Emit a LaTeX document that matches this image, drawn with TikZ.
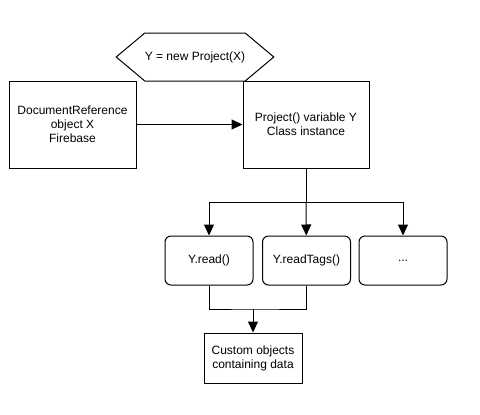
\documentclass[tikz,border=0pt]{standalone}
\usepackage{fontspec}
\setmainfont{Liberation Sans}
\usetikzlibrary{arrows.meta,shapes.symbols}
\begin{document}
\begin{tikzpicture}[x=1pt,y=-1pt,line width=1pt,
  box/.style={draw, align=center, inner sep=0pt},
  method/.style={draw, rounded corners=6pt, minimum width=88, minimum height=49, inner sep=0pt},
  arr/.style={-{Triangle[length=11pt,width=10pt]}},
  font=\fontsize{12}{14}\selectfont]
\useasboundingbox (0,0) rectangle (480,415);
\node[draw, signal, signal to=east and west, signal pointer angle=80, minimum width=115, minimum height=48, inner xsep=0pt] (hex) at (195,57) {Y = new Project(X)};
\node[box, minimum width=127, minimum height=87] (doc) at (72.5,124.5) {DocumentReference\\object X\\Firebase};
\node[box, minimum width=126, minimum height=87] (proj) at (306,124.5) {Project() variable Y\\Class instance};
\node[method] (read) at (209,260.5) {Y.read()};
\node[method] (tags) at (306.5,260.5) {Y.readTags()};
\node[method] (more) at (403,260.5) {...};
\node[box, minimum width=98, minimum height=50] (data) at (253,358) {Custom objects\\containing data};
\coordinate (split) at (306,202);
\coordinate (join) at (253,309);

\path[draw,arr] (doc) -- (proj);
\path[draw] (proj) -- (split);
\path[draw,arr] (split) -| (read);
\path[draw,arr] (split) -- (tags);
\path[draw,arr] (split) -| (more);
\path[draw] (read) |- (join) -| (tags);
\path[draw,arr] (join) -- (data);
\end{tikzpicture}
\end{document}
